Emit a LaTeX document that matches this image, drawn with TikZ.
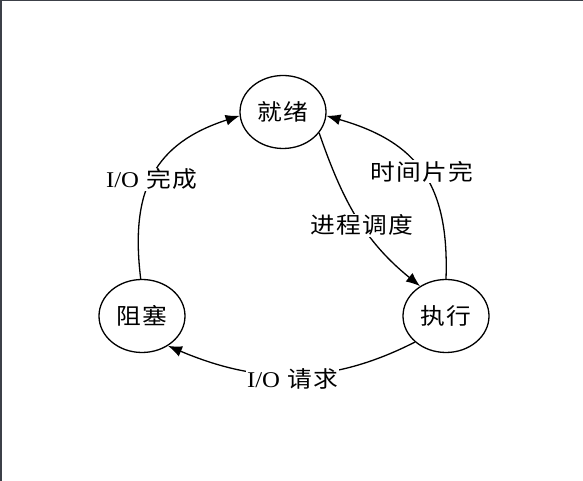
\documentclass[tikz,border=0pt]{standalone}
\usepackage{fontspec}
\setmainfont{Liberation Serif}[FakeStretch=1.1]
\newfontfamily\cjk{Noto Sans CJK SC}[FakeStretch=1.1, LetterSpace=6]
\usetikzlibrary{shapes.geometric,arrows.meta}
\definecolor{rahmen}{RGB}{60,64,72}

\begin{document}
\begin{tikzpicture}[x=1pt, y=1pt,
	zustand/.style={ellipse, draw, line width=1.3pt, minimum width=86pt, minimum height=73pt, inner sep=0pt, font=\fontsize{22.5}{26}\selectfont\cjk},
	marke/.style={fill=white, inner sep=1pt, font=\fontsize{22.5}{26}\selectfont},
	pfeil/.style={line width=1.3pt, -{Latex[length=14pt, width=11pt]}}]
	\useasboundingbox (0, 0) rectangle (583, 481);
	\draw[line width=1.5pt, rahmen](0.75, 0) -- (0.75, 480.25) -- (583, 480.25);%Rahmen

	\node[zustand] (jiuxu) at (283, 369) {就绪};
	\node[zustand] (zusai) at (142, 165) {阻塞};
	\node[zustand] (zhixing) at (446, 165) {执行};

	\draw[pfeil] (zusai.92) to[out=97, in=198, looseness=1.2] node[marke, pos=0.47] {I/O\hspace{7pt}{\cjk 完成}} (jiuxu.185);%links
	\draw[pfeil] (zhixing.90) to[out=88, in=-16, looseness=1.2] node[marke, pos=0.5] {\cjk 时间片完} (jiuxu.-5);%rechts
	\draw[pfeil] (jiuxu.-30) to[out=-71, in=141] node[marke, pos=0.55] {\cjk 进程调度} (zhixing.131);%Mitte
	\draw[pfeil] (zhixing.220) to[out=207, in=-23] node[marke, pos=0.5, yshift=-4pt] {I/O\hspace{7pt}{\cjk 请求}} (zusai.-49);%unten

\end{tikzpicture}
\end{document}
